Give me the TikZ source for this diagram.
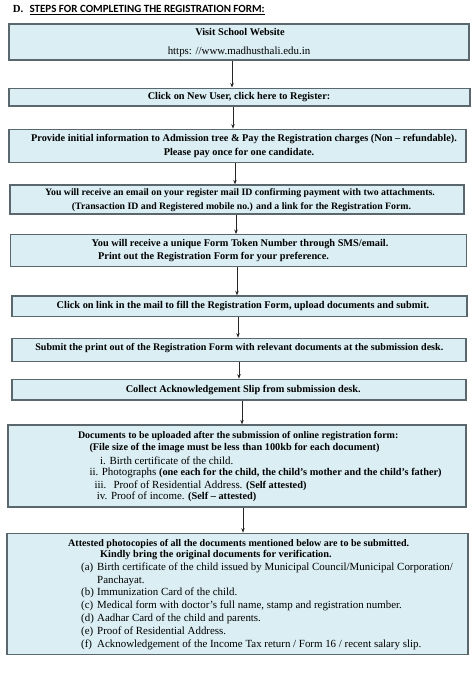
\documentclass[tikz,border=0pt]{standalone}
\usepackage{fontspec}
\setmainfont{Liberation Serif}
\newfontfamily\calibri{Carlito}
\usetikzlibrary{arrows.meta}
\definecolor{boxfill}{HTML}{DAEEF3}
\definecolor{boxline}{HTML}{5A676C}
\newcommand{\bpart}[1]{{\fontsize{10.3}{12}\selectfont\bfseries #1}}
\begin{document}
\begin{tikzpicture}[x=1pt,y=-1pt,
  box/.style={draw=boxline, fill=boxfill, line width=1.3pt, inner sep=0pt},
  arr/.style={-{Stealth[length=4.5pt,width=3.5pt]}, line width=0.7pt, draw=black!85},
  txt/.style={inner sep=0pt, anchor=mid, font=\fontsize{10.9}{12}\selectfont},
  txtl/.style={inner sep=0pt, anchor=mid west, font=\fontsize{10.9}{12}\selectfont},
  bt/.style={txt, font=\fontsize{10.3}{12}\selectfont\bfseries},
  btl/.style={txtl, font=\fontsize{10.3}{12}\selectfont\bfseries}]
\useasboundingbox (0,0) rectangle (474,673);
% title
\node[btl, font=\fontsize{10.8}{12}\selectfont\bfseries] (tD) at (12.7,10.7) {D.};
\node[txtl, font=\fontsize{11}{12}\selectfont\calibri\bfseries] (tT) at (29.3,10.7) {\underline{STEPS FOR COMPLETING THE REGISTRATION FORM:}};
% boxes
\node[box, minimum width=460pt, minimum height=36pt] (b1) at (239,42) {};
\node[box, minimum width=461pt, minimum height=17.7pt] (b2) at (239.5,97) {};
\node[box, minimum width=457pt, minimum height=33.4pt] (b3) at (237.5,146) {};
\node[box, minimum width=454pt, minimum height=29pt] (b4) at (237,199.5) {};
\node[box, minimum width=456pt, minimum height=32pt] (b5) at (238.7,250.7) {};
\node[box, minimum width=455pt, minimum height=20.7pt] (b6) at (239.5,306.3) {};
\node[box, minimum width=454pt, minimum height=23.4pt] (b7) at (239,350) {};
\node[box, minimum width=454pt, minimum height=20.7pt] (b8) at (239,389.7) {};
\node[box, minimum width=458pt, minimum height=82pt] (b9) at (237,466) {};
\node[box, minimum width=461pt, minimum height=121pt] (b10) at (237.5,593.8) {};
% texts
\node[bt] (l1a) at (240,33.3) {Visit School Website};
\node[txt] (l1b) at (239,52.3) {https: //www.madhusthali.edu.in};
\node[bt] (l2) at (239,97) {Click on New User, click here to Register:};
\node[bt] (l3a) at (244,139) {Provide initial information to Admission tree \& Pay the Registration charges (Non – refundable).};
\node[bt] (l3b) at (239,153.3) {Please pay once for one candidate.};
\node[bt, font=\fontsize{9.8}{12}\selectfont\bfseries] (l4a) at (240,192.7) {You will receive an email on your register mail ID confirming payment with two attachments.};
\node[bt, font=\fontsize{9.8}{12}\selectfont\bfseries] (l4b) at (241.5,206.7) {(Transaction ID and Registered mobile no.) and a link for the Registration Form.};
\node[bt] (l5a) at (240,244) {You will receive a unique Form Token Number through SMS/email.};
\node[btl] (l5b) at (98,257.3) {Print out the Registration Form for your preference.};
\node[bt] (l6) at (243,305.7) {Click on link in the mail to fill the Registration Form, upload documents and submit.};
\node[bt, font=\fontsize{10.1}{12}\selectfont\bfseries] (l7) at (239.3,348.3) {Submit the print out of the Registration Form with relevant documents at the submission desk.};
\node[bt] (l8) at (243.3,390) {Collect Acknowledgement Slip from submission desk.};
% box 9
\node[bt, font=\fontsize{10}{12}\selectfont\bfseries] (l9a) at (238.2,435.7) {Documents to be uploaded after the submission of online registration form:};
\node[btl] (l9b) at (89.3,448) {(File size of the image must be less than 100kb for each document)};
\node[txtl] (l9c) at (100,461.7) {i. Birth certificate of the child.};
\node[txtl] (l9d) at (89.3,473.3) {ii. Photographs \bpart{(one each for the child, the child’s mother and the child’s father)}};
\node[txtl] (l9e) at (94.3,485.7) {iii.};
\node[txtl] (l9f) at (113.3,485.7) {Proof of Residential Address. \bpart{(Self attested)}};
\node[txtl] (l9g) at (96.7,497.3) {iv. Proof of income. \bpart{(Self – attested)}};
% box 10
\node[btl, font=\fontsize{10.05}{12}\selectfont\bfseries] (m1) at (68,544) {Attested photocopies of all the documents mentioned below are to be submitted.};
\node[btl] (m2) at (100,555) {Kindly bring the original documents for verification.};
\node[txtl] (ma) at (81,568) {(a)};
\node[txtl] (mat) at (97,568) {Birth certificate of the child issued by Municipal Council/Municipal Corporation/};
\node[txtl] (mat2) at (97,581) {Panchayat.};
\node[txtl] (mb) at (81,593.5) {(b)};
\node[txtl] (mbt) at (97,593.5) {Immunization Card of the child.};
\node[txtl] (mc) at (81,606.5) {(c)};
\node[txtl] (mct) at (97,606.5) {Medical form with doctor’s full name, stamp and registration number.};
\node[txtl] (md) at (81,619) {(d)};
\node[txtl] (mdt) at (97,619) {Aadhar Card of the child and parents.};
\node[txtl] (me) at (81,632) {(e)};
\node[txtl] (met) at (97,632) {Proof of Residential Address.};
\node[txtl] (mf) at (81,645) {(f)};
\node[txtl] (mft) at (97,645) {Acknowledgement of the Income Tax return / Form 16 / recent salary slip.};
% arrows
\coordinate (x1) at (232,0);
\coordinate (x2) at (233,0);
\coordinate (x3) at (235,0);
\coordinate (x4) at (236,0);
\coordinate (x5) at (237,0);
\coordinate (x6) at (238,0);
\coordinate (x7) at (239,0);
\coordinate (x8) at (242,0);
\coordinate (x9) at (243,0);
\draw[arr] (b1.south -| x1) -- (b2.north -| x1);
\draw[arr] (b2.south -| x2) -- (b3.north -| x2);
\draw[arr] (b3.south -| x3) -- (b4.north -| x3);
\draw[arr] (b4.south -| x4) -- (b5.north -| x4);
\draw[arr] (b5.south -| x5) -- (b6.north -| x5);
\draw[arr] (b6.south -| x6) -- (b7.north -| x6);
\draw[arr] (b7.south -| x7) -- (b8.north -| x7);
\draw[arr] (b8.south -| x8) -- (b9.north -| x8);
\draw[arr] (b9.south -| x9) -- (b10.north -| x9);
\end{tikzpicture}
\end{document}
